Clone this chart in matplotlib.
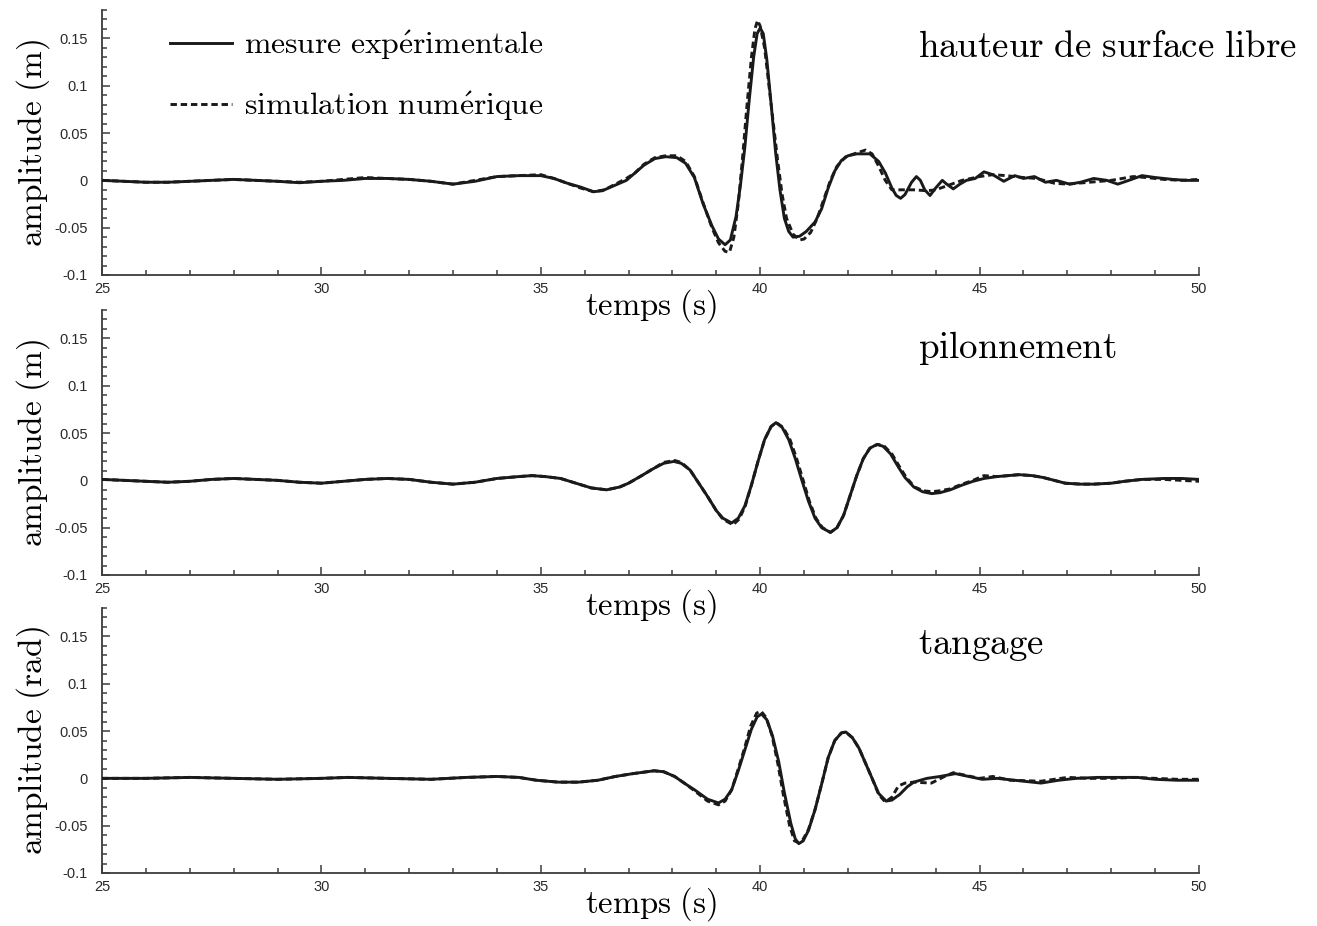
import matplotlib
matplotlib.use('Agg')
import matplotlib.pyplot as plt
from matplotlib.ticker import MultipleLocator

# ---------------- data ----------------
# Panel 1 : hauteur de surface libre (m)
t_surf_exp = [25.0, 25.5, 26.0, 26.5, 27.0, 27.5, 28.0, 28.5, 29.0, 29.5, 30.0, 30.5, 31.0, 31.5,
              32.0, 32.5, 33.0, 33.5, 34.0, 34.5, 35.0, 35.3, 35.6, 35.9, 36.2, 36.4, 36.7, 36.95,
              37.15, 37.35, 37.6, 37.85, 38.1, 38.3, 38.5, 38.7, 38.9, 39.05, 39.2, 39.32, 39.45,
              39.55, 39.65, 39.75, 39.85, 39.93, 40.0, 40.07, 40.15, 40.25, 40.35, 40.45, 40.55,
              40.65, 40.75, 40.9, 41.05, 41.25, 41.4, 41.55, 41.7, 41.85, 42.0, 42.2, 42.5, 42.7,
              42.85, 43.0, 43.1, 43.2, 43.3, 43.45, 43.56, 43.65, 43.75, 43.87, 44.0, 44.15, 44.25,
              44.4, 44.55, 44.7, 44.9, 45.1, 45.3, 45.55, 45.8, 46.0, 46.25, 46.5, 46.75, 47.05,
              47.3, 47.6, 47.9, 48.15, 48.4, 48.7, 49.0, 49.4, 49.7, 50.0]
surf_exp = [0.000, -0.001, -0.002, -0.002, -0.001, 0.000, 0.001, 0.000, -0.001, -0.0025, -0.001,
            0.000, 0.002, 0.002, 0.001, -0.001, -0.004, -0.001, 0.004, 0.005, 0.005, 0.002, -0.003,
            -0.007, -0.012, -0.011, -0.005, 0.000, 0.008, 0.016, 0.023, 0.025, 0.024, 0.018, 0.003,
            -0.025, -0.048, -0.062, -0.068, -0.063, -0.038, -0.005, 0.035, 0.085, 0.130, 0.155,
            0.161, 0.155, 0.128, 0.080, 0.030, -0.010, -0.040, -0.054, -0.060, -0.059, -0.054,
            -0.044, -0.030, -0.008, 0.010, 0.021, 0.026, 0.028, 0.028, 0.020, 0.008, -0.008, -0.016,
            -0.019, -0.015, -0.002, 0.004, 0.000, -0.010, -0.016, -0.008, 0.000, -0.004, -0.009,
            -0.004, 0.000, 0.002, 0.009, 0.006, -0.001, 0.005, 0.002, 0.004, -0.002, 0.000, -0.004,
            -0.002, 0.002, 0.000, -0.004, 0.000, 0.005, 0.003, 0.001, 0.000, 0.000]
t_surf_sim = [25.0, 25.5, 26.0, 26.5, 27.0, 27.5, 28.0, 28.5, 29.0, 29.5, 30.0, 30.5, 31.0, 31.5,
              32.0, 32.5, 33.0, 33.5, 34.0, 34.5, 35.0, 35.3, 35.6, 35.9, 36.2, 36.45, 36.7, 36.95,
              37.15, 37.35, 37.6, 37.85, 38.1, 38.3, 38.5, 38.7, 38.9, 39.05, 39.2, 39.3, 39.4,
              39.5, 39.6, 39.7, 39.8, 39.88, 39.94, 40.0, 40.1, 40.2, 40.3, 40.4, 40.5, 40.6, 40.75,
              40.9, 41.0, 41.15, 41.3, 41.45, 41.6, 41.75, 41.95, 42.2, 42.4, 42.55, 42.7, 42.85,
              43.0, 43.2, 43.5, 43.8, 44.0, 44.3, 44.6, 45.0, 45.3, 45.6, 46.0, 46.3, 46.7, 47.0,
              47.5, 48.0, 48.5, 48.8, 49.2, 49.6, 50.0]
surf_sim = [0.000, -0.001, -0.002, -0.002, -0.001, 0.000, 0.001, 0.000, -0.001, -0.002, -0.001,
            0.001, 0.003, 0.002, 0.001, -0.001, -0.004, 0.000, 0.004, 0.005, 0.006, 0.002, -0.003,
            -0.008, -0.012, -0.010, -0.004, 0.002, 0.008, 0.017, 0.024, 0.026, 0.026, 0.020, 0.004,
            -0.024, -0.050, -0.066, -0.075, -0.076, -0.060, -0.025, 0.025, 0.080, 0.130, 0.160,
            0.169, 0.163, 0.140, 0.100, 0.060, 0.020, -0.015, -0.040, -0.057, -0.063, -0.062,
            -0.055, -0.040, -0.020, 0.000, 0.015, 0.025, 0.029, 0.032, 0.028, 0.015, 0.000, -0.010,
            -0.010, -0.010, -0.011, -0.010, -0.005, 0.000, 0.004, 0.006, 0.005, 0.003, 0.002,
            -0.003, -0.004, -0.002, 0.000, 0.004, 0.003, 0.001, 0.000, 0.001]

# Panel 2 : pilonnement (m)
t_heave_exp = [25.0, 25.5, 26.0, 26.5, 27.0, 27.5, 28.0, 28.5, 29.0, 29.5, 30.0, 30.5, 31.0, 31.5,
               32.0, 32.5, 33.0, 33.5, 34.0, 34.5, 34.8, 35.1, 35.45, 35.8, 36.15, 36.5, 36.8,
               37.0, 37.3, 37.55, 37.8, 38.03, 38.2, 38.4, 38.6, 38.8, 39.0, 39.15, 39.35, 39.5,
               39.65, 39.8, 39.95, 40.1, 40.25, 40.36, 40.5, 40.65, 40.8, 40.95, 41.1, 41.25, 41.4,
               41.6, 41.75, 41.9, 42.05, 42.2, 42.35, 42.5, 42.66, 42.8, 42.97, 43.15, 43.3, 43.5,
               43.7, 43.91, 44.1, 44.33, 44.6, 44.85, 45.1, 45.4, 45.9, 46.2, 46.45, 46.7, 46.95,
               47.3, 47.6, 48.0, 48.3, 48.7, 49.2, 49.6, 50.0]
heave_exp = [0.001, 0.000, -0.001, -0.002, -0.001, 0.001, 0.002, 0.001, 0.000, -0.002, -0.003,
             -0.001, 0.001, 0.002, 0.001, -0.002, -0.004, -0.002, 0.002, 0.004, 0.005, 0.004, 0.002,
             -0.003, -0.008, -0.010, -0.007, -0.003, 0.005, 0.012, 0.018, 0.020, 0.018, 0.011,
             -0.003, -0.017, -0.032, -0.040, -0.045, -0.040, -0.027, -0.005, 0.020, 0.043, 0.057,
             0.061, 0.056, 0.043, 0.023, 0.000, -0.022, -0.040, -0.050, -0.055, -0.050, -0.037,
             -0.016, 0.005, 0.023, 0.034, 0.038, 0.036, 0.028, 0.014, 0.003, -0.007, -0.012,
             -0.014, -0.013, -0.010, -0.005, -0.001, 0.002, 0.004, 0.006, 0.005, 0.003, 0.000,
             -0.003, -0.004, -0.004, -0.003, -0.001, 0.001, 0.002, 0.002, 0.001]
t_heave_sim = [25.0, 25.5, 26.0, 26.5, 27.0, 27.5, 28.0, 28.5, 29.0, 29.5, 30.0, 30.5, 31.0, 31.5,
               32.0, 32.5, 33.0, 33.5, 34.0, 34.5, 34.8, 35.1, 35.45, 35.8, 36.15, 36.5, 36.8,
               37.0, 37.3, 37.55, 37.8, 38.05, 38.2, 38.4, 38.6, 38.8, 39.0, 39.15, 39.38, 39.52,
               39.66, 39.8, 39.95, 40.1, 40.25, 40.37, 40.52, 40.68, 40.83, 40.98, 41.12, 41.27,
               41.42, 41.6, 41.75, 41.9, 42.05, 42.2, 42.35, 42.5, 42.68, 42.83, 43.0, 43.18, 43.33,
               43.52, 43.72, 43.91, 44.1, 44.33, 44.6, 44.85, 45.1, 45.4, 45.9, 46.2, 46.45, 46.7,
               46.95, 47.3, 47.6, 48.0, 48.3, 48.7, 49.2, 49.6, 50.0]
heave_sim = [0.001, 0.000, -0.001, -0.002, -0.001, 0.001, 0.002, 0.001, 0.000, -0.002, -0.003,
             -0.001, 0.001, 0.002, 0.001, -0.002, -0.004, -0.002, 0.002, 0.004, 0.005, 0.004, 0.002,
             -0.003, -0.008, -0.010, -0.007, -0.003, 0.005, 0.012, 0.019, 0.021, 0.019, 0.011,
             -0.003, -0.017, -0.032, -0.041, -0.047, -0.041, -0.027, -0.005, 0.020, 0.043, 0.057,
             0.061, 0.056, 0.043, 0.023, 0.000, -0.022, -0.040, -0.050, -0.055, -0.050, -0.037,
             -0.016, 0.005, 0.023, 0.034, 0.038, 0.036, 0.028, 0.014, 0.003, -0.007, -0.011,
             -0.012, -0.011, -0.009, -0.004, 0.000, 0.005, 0.004, 0.006, 0.005, 0.003, 0.000,
             -0.003, -0.004, -0.004, -0.003, -0.001, 0.001, 0.001, 0.000, -0.001]

# Panel 3 : tangage (rad)
t_pitch_exp = [25.0, 26.0, 27.0, 28.0, 29.0, 30.0, 30.6, 31.5, 32.5, 33.3, 34.0, 34.5, 34.9, 35.4,
               35.86, 36.3, 36.7, 37.1, 37.58, 37.8, 38.05, 38.3, 38.5, 38.8, 39.05, 39.2, 39.35,
               39.5, 39.65, 39.8, 39.93, 40.03, 40.15, 40.28, 40.42, 40.55, 40.7, 40.8, 40.88,
               40.98, 41.1, 41.25, 41.4, 41.55, 41.7, 41.85, 41.95, 42.1, 42.25, 42.4, 42.55, 42.7,
               42.87, 43.0, 43.18, 43.35, 43.5, 43.8, 44.1, 44.45, 44.75, 45.06, 45.4, 45.8, 46.4,
               46.8, 47.2, 47.7, 48.2, 48.6, 49.0, 49.5, 50.0]
pitch_exp = [0.000, 0.000, 0.001, 0.000, -0.001, 0.000, 0.001, 0.000, -0.001, 0.001, 0.002, 0.001,
             -0.002, -0.004, -0.004, -0.002, 0.002, 0.005, 0.008, 0.007, 0.002, -0.006, -0.012,
             -0.022, -0.026, -0.022, -0.012, 0.008, 0.030, 0.052, 0.065, 0.068, 0.062, 0.045,
             0.018, -0.015, -0.048, -0.064, -0.069, -0.066, -0.055, -0.033, -0.006, 0.022, 0.040,
             0.048, 0.049, 0.043, 0.032, 0.016, 0.000, -0.016, -0.024, -0.023, -0.017, -0.009,
             -0.004, 0.000, 0.002, 0.005, 0.002, -0.001, 0.000, -0.002, -0.005, -0.002, 0.000,
             0.001, 0.001, 0.001, -0.001, -0.002, -0.002]
t_pitch_sim = [25.0, 26.0, 27.0, 28.0, 29.0, 30.0, 30.6, 31.5, 32.5, 33.3, 34.0, 34.5, 34.9, 35.4,
               35.86, 36.3, 36.7, 37.1, 37.58, 37.8, 38.05, 38.3, 38.5, 38.8, 39.05, 39.2, 39.35,
               39.5, 39.65, 39.78, 39.92, 40.02, 40.14, 40.27, 40.4, 40.53, 40.67, 40.78, 40.87,
               40.97, 41.1, 41.25, 41.4, 41.55, 41.7, 41.85, 41.95, 42.1, 42.25, 42.4, 42.55, 42.7,
               42.85, 43.0, 43.15, 43.3, 43.5, 43.9, 44.2, 44.4, 44.7, 45.0, 45.3, 45.7, 46.4, 47.0,
               47.5, 48.0, 48.5, 49.0, 49.5, 50.0]
pitch_sim = [0.000, 0.000, 0.001, 0.000, -0.001, 0.000, 0.001, 0.000, -0.001, 0.001, 0.002, 0.001,
             -0.002, -0.004, -0.004, -0.002, 0.002, 0.005, 0.008, 0.007, 0.002, -0.006, -0.013,
             -0.024, -0.028, -0.024, -0.012, 0.010, 0.033, 0.055, 0.069, 0.071, 0.064, 0.045, 0.016,
             -0.018, -0.050, -0.066, -0.068, -0.065, -0.054, -0.033, -0.006, 0.022, 0.040, 0.048,
             0.049, 0.043, 0.032, 0.016, 0.000, -0.017, -0.025, -0.020, -0.008, -0.005, -0.004,
             -0.005, 0.002, 0.006, 0.003, 0.000, 0.002, -0.002, -0.003, 0.001, 0.000, 0.000, 0.001,
             0.000, -0.001, -0.001]

panel_titles = [r'$\mathrm{hauteur\ de\ surface\ libre}$', r'$\mathrm{pilonnement}$',
                r'$\mathrm{tangage}$']
y_labels = [r'$\mathrm{amplitude\ (m)}$', r'$\mathrm{amplitude\ (m)}$',
            r'$\mathrm{amplitude\ (rad)}$']
x_label = r'$\mathrm{temps\ (s)}$'
legend_labels = [r'$\mathrm{mesure\ exp\acute{e}rimentale}$',
                 r'$\mathrm{simulation\ num\acute{e}rique}$']
x_ticks = [25, 30, 35, 40, 45, 50]
y_ticks = [-0.1, -0.05, 0, 0.05, 0.1, 0.15]
y_tick_labels = ['-0.1', '-0.05', '0', '0.05', '0.1', '0.15']

series = [(t_surf_exp, surf_exp, t_surf_sim, surf_sim),
          (t_heave_exp, heave_exp, t_heave_sim, heave_sim),
          (t_pitch_exp, pitch_exp, t_pitch_sim, pitch_sim)]

# ---------------- drawing ----------------
plt.rcParams['mathtext.fontset'] = 'cm'
plt.rcParams['font.family'] = ['Liberation Sans', 'DejaVu Sans']

W, H = 1317, 926
fig = plt.figure(figsize=(W / 100, H / 100), dpi=100)
left = 102 / W
width = 1097 / W
height = 265 / H
bottoms_px = [275, 575, 873]

axis_col = '#3c3c3c'
line_col = '#1a1a1a'
serif_size = 24

for i, (b_px, (te, ye, ts, ys)) in enumerate(zip(bottoms_px, series)):
    ax = fig.add_axes([left, 1 - b_px / H, width, height])
    ax.patch.set_visible(False)
    ax.plot(te, ye, color=line_col, lw=2.1, solid_joinstyle='round',
            label=legend_labels[0], zorder=3)
    ax.plot(ts, ys, color=line_col, lw=2.1, dashes=(2.2, 1.3),
            label=legend_labels[1], zorder=2)
    ax.set_xlim(25, 50)
    ax.set_ylim(-0.1, 0.18)
    for s in ['top', 'right']:
        ax.spines[s].set_visible(False)
    for s in ['left', 'bottom']:
        ax.spines[s].set_color(axis_col)
        ax.spines[s].set_linewidth(1.3)
    ax.set_xticks(x_ticks)
    ax.set_xticklabels([str(v) for v in x_ticks])
    ax.set_yticks(y_ticks)
    ax.set_yticklabels(y_tick_labels)
    ax.xaxis.set_minor_locator(MultipleLocator(1))
    ax.yaxis.set_minor_locator(MultipleLocator(0.01))
    ax.tick_params(which='both', direction='in', color=axis_col, width=1.1,
                   labelsize=10.5, labelcolor='#2a2a2a')
    ax.tick_params(which='major', length=6)
    ax.tick_params(which='minor', length=3.5)
    ax.tick_params(axis='y', which='major', pad=10)
    ax.tick_params(axis='x', which='major', pad=5)

    ax.set_xlabel(x_label, fontsize=23.5)
    ax.xaxis.set_label_coords(0.5, -0.045)
    ax.set_ylabel(y_labels[i], fontsize=serif_size)
    ax.yaxis.set_label_coords(-0.046, 0.5)

    ax.text(0.744, 0.857, panel_titles[i], transform=ax.transAxes,
            fontsize=26.6, ha='left', va='center')

    if i == 0:
        ax.legend(loc='upper left', bbox_to_anchor=(0.062, 0.93), frameon=False,
                  fontsize=22.8, handlelength=1.95, handletextpad=0.4,
                  labelspacing=0.85, borderpad=0.0, borderaxespad=0.0)

fig.savefig('out.png', dpi=100)
